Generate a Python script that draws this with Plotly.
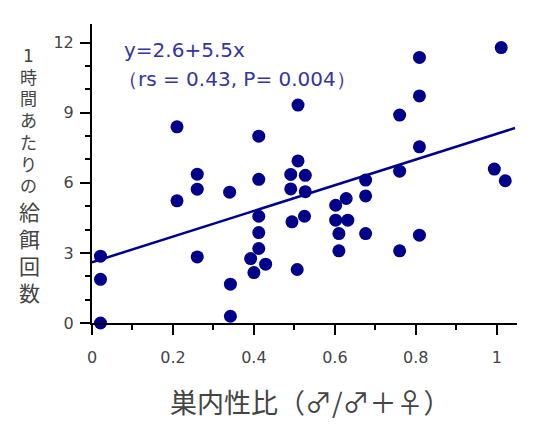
import plotly.graph_objects as go

# nest sex ratio (male / male+female) vs feeding visits per hour
sex_ratio = [1.011, 0.809, 0.809, 0.760, 0.509, 0.210, 0.412, 0.809, 0.994, 1.021,
             0.760, 0.676, 0.676, 0.628, 0.602, 0.602, 0.632, 0.610, 0.676, 0.610,
             0.760, 0.809, 0.509, 0.491, 0.527, 0.491, 0.527, 0.494, 0.525, 0.507,
             0.412, 0.412, 0.412, 0.412, 0.392, 0.429, 0.400, 0.340, 0.342, 0.342,
             0.260, 0.260, 0.210, 0.260, 0.021, 0.021, 0.021]
feeding = [11.79, 11.37, 9.72, 8.90, 9.33, 8.40, 8.00, 7.54, 6.59, 6.09,
           6.50, 6.12, 5.44, 5.33, 5.04, 4.40, 4.40, 3.83, 3.83, 3.09,
           3.09, 3.76, 6.94, 6.36, 6.32, 5.74, 5.62, 4.33, 4.57, 2.29,
           6.15, 4.57, 3.87, 3.19, 2.76, 2.52, 2.16, 5.60, 1.66, 0.29,
           6.37, 5.73, 5.23, 2.83, 2.86, 1.87, 0.0]

# fitted line y = 2.6 + 5.5x
fit_x = [0.0, 1.045]
fit_y = [2.6 + 5.5 * v for v in fit_x]

x_ticks = [0, 0.2, 0.4, 0.6, 0.8, 1]
x_ticklabels = ["0", "0.2", "0.4", "0.6", "0.8", "1"]
y_ticks = [0, 3, 6, 9, 12]

ytitle_small = ["1", "時", "間", "あ", "た", "り", "の"]
ytitle_big = ["給", "餌", "回", "数"]

navy = "#00008b"
W, H = 534, 424
L, R, T, B = 84, 25, 16, 109
PAGE = 8  # body margin of the html page


def px(x):  # screen pixel -> paper x
    return (x - PAGE - L) / (W - L - R)


def py(y):  # screen pixel -> paper y
    return (H - B - (y - PAGE)) / (H - T - B)


fig = go.Figure()
fig.add_trace(go.Scatter(x=fit_x, y=fit_y, mode="lines",
                         line=dict(color=navy, width=2.5), cliponaxis=False))
fig.add_trace(go.Scatter(x=sex_ratio, y=feeding, mode="markers",
                         marker=dict(color=navy, size=13), cliponaxis=False))

axis_font = dict(family="DejaVu Sans", size=16, color="#444")

fig.update_layout(
    width=W, height=H,
    margin=dict(l=L, r=R, t=T, b=B),
    paper_bgcolor="white", plot_bgcolor="white",
    showlegend=False,
    xaxis=dict(range=[0, 1.05], tickvals=x_ticks, ticktext=x_ticklabels,
               showgrid=False, zeroline=False, showline=True,
               linecolor="black", linewidth=2,
               ticks="outside", ticklen=10, tickwidth=2, tickcolor="black",
               minor=dict(dtick=0.1, tick0=0, ticks="outside", ticklen=5,
                          tickwidth=2, tickcolor="black"),
               tickfont=axis_font, ticklabelstandoff=9),
    yaxis=dict(range=[0, 12.8], tickvals=y_ticks,
               showgrid=False, zeroline=False, showline=True,
               linecolor="black", linewidth=2,
               ticks="outside", ticklen=10, tickwidth=2, tickcolor="black",
               minor=dict(dtick=1, tick0=0, ticks="outside", ticklen=5,
                          tickwidth=2, tickcolor="black"),
               tickfont=axis_font, ticklabelstandoff=3),
)

stat_font = dict(family="DejaVu Sans", size=20, color="#3535a0")
fig.add_annotation(x=px(122), y=py(50), xref="paper", yref="paper", showarrow=False,
                   text="y=2.6+5.5x", xanchor="left", yanchor="middle", font=stat_font)
fig.add_annotation(x=px(116), y=py(79), xref="paper", yref="paper", showarrow=False,
                   text="（rs = 0.43, P= 0.004）", xanchor="left", yanchor="middle",
                   font=stat_font)

# vertical y-axis title, one annotation per character
jp = "DejaVu Sans, Noto Sans CJK JP"
for i, ch in enumerate(ytitle_small):
    fig.add_annotation(x=px(28), y=py(56 + 21.7 * i), xref="paper", yref="paper",
                       showarrow=False, text=ch, xanchor="center", yanchor="middle",
                       font=dict(family=jp, size=17, color="#444"))
for i, ch in enumerate(ytitle_big):
    fig.add_annotation(x=px(29), y=py(213 + 27 * i), xref="paper", yref="paper",
                       showarrow=False, text=ch, xanchor="center", yanchor="middle",
                       font=dict(family=jp, size=21, color="#444"))

# x-axis title
fig.add_annotation(x=px(310), y=py(401), xref="paper", yref="paper", showarrow=False,
                   text="巣内性比（♂/♂＋♀）", xanchor="center", yanchor="middle",
                   font=dict(family="Noto Sans CJK JP", size=27, color="#444"))

fig.write_html("out.html")
